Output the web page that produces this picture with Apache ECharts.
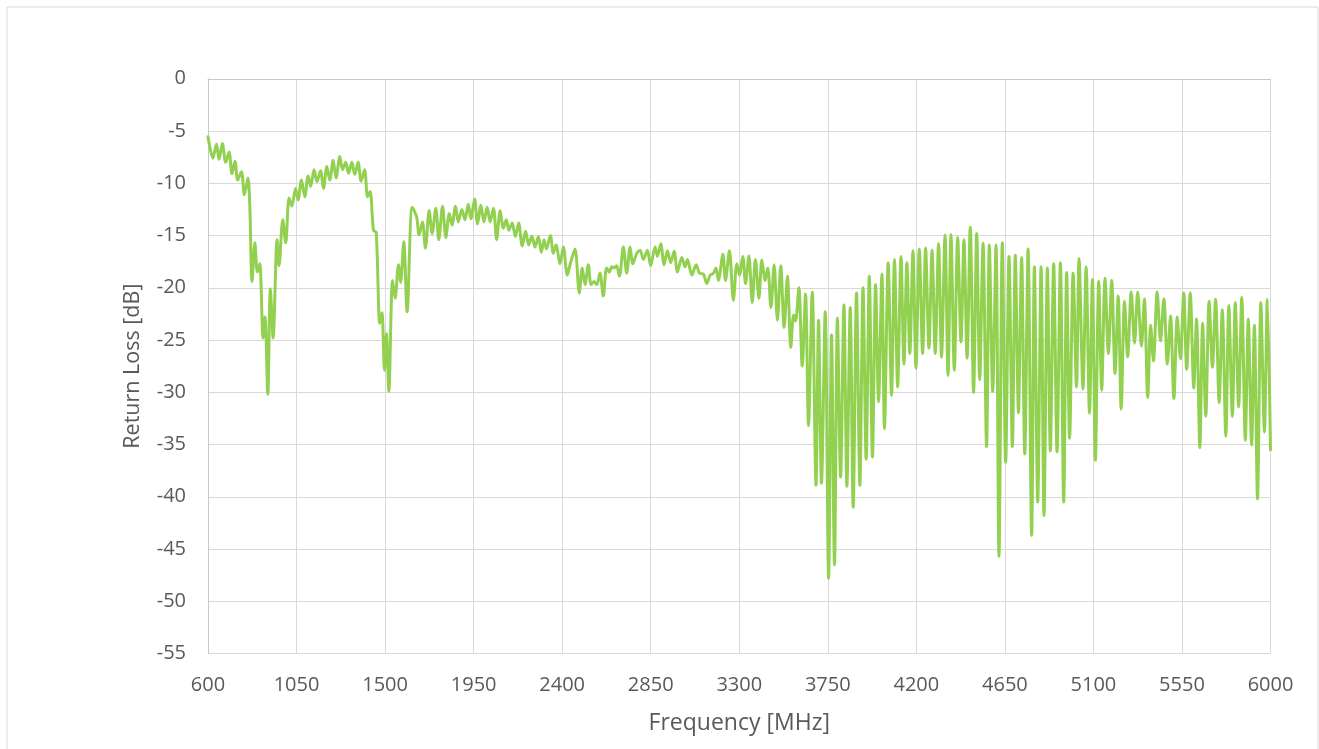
<!DOCTYPE html>
<html>
<head>
<meta charset="utf-8">
<script src="https://cdn.jsdelivr.net/npm/echarts@6/dist/echarts.min.js"></script>
<style>
html,body{margin:0;padding:0;background:#fff;}
#chart{width:1319px;height:749px;}
</style>
</head>
<body>
<div id="chart"></div>
<script>
// Frequency [MHz] of each read point
const freqMHz = [
600,625,643,656,673,690,707,722,737,751,770,785,803,812,824,838,851,863,880,890,
904,917,931,951,961,980,995,1012,1026,1045,1058,1075,1092,1109,1122,1139,1154,1172,1187,1204,
1219,1236,1251,1270,1284,1300,1314,1331,1346,1363,1378,1396,1411,1424,1441,1455,1473,1484,1497,1507,
1519,1538,1551,1568,1579,1595,1612,1638,1660,1673,1690,1705,1724,1739,1758,1773,1792,1809,1826,1840,
1858,1872,1890,1906,1923,1936,1955,1970,1987,2002,2019,2034,2051,2067,2085,2101,2116,2129,2146,2162,
2179,2197,2214,2230,2246,2262,2279,2294,2308,2320,2340,2355,2369,2389,2406,2426,2440,2465,2487,2502,
2516,2533,2547,2562,2576,2592,2609,2626,2640,2652,2664,2677,2691,2711,2728,2745,2759,2779,2796,2813,
2833,2850,2872,2884,2901,2918,2935,2952,2969,2986,3008,3025,3037,3059,3081,3098,3118,3135,3152,3169,
3182,3194,3217,3230,3250,3270,3288,3301,3318,3332,3349,3366,3382,3400,3415,3432,3445,3461,3477,3494,
3511,3528,3545,3562,3576,3586,3603,3620,3637,3652,3671,3690,3703,3718,3737,3754,3769,3784,3799,3815,
3832,3847,3864,3879,3896,3913,3929,3945,3961,3977,3993,4008,4025,4038,4057,4074,4089,4105,4122,4137,
4152,4167,4183,4198,4215,4232,4247,4264,4280,4296,4313,4328,4346,4361,4376,4393,4410,4427,4442,4458,
4474,4491,4507,4522,4539,4557,4571,4588,4605,4620,4637,4654,4671,4688,4703,4719,4735,4751,4768,4786,
4800,4817,4834,4849,4866,4881,4898,4915,4932,4949,4964,4979,4997,5014,5027,5047,5063,5080,5095,5110,
5127,5142,5159,5176,5193,5210,5226,5241,5258,5274,5292,5309,5325,5344,5359,5376,5391,5405,5424,5441,
5458,5476,5492,5509,5526,5542,5559,5574,5592,5610,5624,5641,5655,5671,5688,5705,5721,5739,5755,5773,
5788,5806,5821,5838,5854,5872,5887,5904,5918,5934,5951,5969,5984,6000
];
// Return loss [dB] at each frequency above
const returnLossDb = [
-5.55,-7.6,-6.24,-7.7,-6.2,-8.0,-7.0,-9.1,-7.9,-9.7,-8.9,-11.1,-9.5,-11.9,-19.4,-15.7,-18.5,-17.7,-24.8,-22.8,
-30.2,-20.1,-24.8,-15.4,-17.9,-13.5,-15.7,-11.4,-12.2,-10.5,-11.6,-9.7,-11.3,-9.3,-10.3,-8.7,-9.85,-8.8,-10.5,-8.4,
-9.7,-7.8,-9.5,-7.45,-8.7,-8.0,-9.05,-8.0,-9.15,-8.0,-9.8,-8.7,-11.3,-10.8,-14.5,-14.7,-23.4,-22.4,-27.9,-24.4,
-29.9,-19.3,-21.0,-17.8,-19.5,-15.6,-22.3,-12.3,-13.2,-14.95,-13.7,-16.2,-12.6,-14.8,-12.4,-15.4,-12.2,-15.2,-12.9,-14.0,
-12.2,-13.7,-12.5,-13.5,-12.0,-13.4,-11.5,-13.9,-12.1,-13.7,-12.3,-13.7,-12.4,-15.4,-12.6,-14.3,-13.5,-14.5,-13.8,-15.1,
-13.8,-16.0,-14.6,-15.9,-15.05,-16.1,-15.1,-16.6,-15.4,-16.3,-15.0,-16.7,-15.9,-17.7,-16.1,-18.8,-17.8,-16.3,-20.5,-18.1,
-19.7,-17.8,-19.7,-19.4,-19.7,-18.6,-20.8,-18.1,-18.5,-18.0,-18.1,-17.9,-18.9,-16.1,-18.6,-16.1,-17.7,-16.7,-16.4,-17.3,
-16.4,-17.9,-16.1,-17.0,-15.8,-17.8,-16.45,-17.6,-16.5,-18.5,-17.1,-18.0,-17.3,-18.8,-17.8,-18.6,-18.7,-19.6,-18.8,-18.6,
-18.1,-19.3,-16.8,-19.3,-16.45,-21.2,-17.7,-18.8,-17.0,-19.6,-16.95,-21.4,-17.3,-21.0,-17.35,-19.3,-18.1,-21.9,-17.8,-23.1,
-17.9,-23.8,-18.9,-25.7,-22.6,-23.2,-20.0,-27.5,-20.6,-33.2,-20.4,-38.9,-23.1,-38.7,-22.3,-47.8,-24.5,-46.5,-22.9,-38.1,
-21.65,-39.0,-21.9,-41.0,-20.5,-38.9,-20.0,-36.4,-18.9,-36.2,-19.7,-30.9,-18.7,-33.5,-17.6,-30.3,-17.3,-29.5,-17.0,-27.3,
-17.6,-26.3,-16.45,-27.7,-16.3,-26.3,-16.2,-25.8,-16.4,-26.3,-15.8,-26.65,-14.95,-28.4,-14.9,-27.9,-15.2,-25.2,-15.4,-26.75,
-14.2,-30.0,-14.8,-28.8,-15.75,-35.2,-15.9,-29.9,-15.9,-45.7,-15.7,-36.7,-17.0,-35.2,-16.9,-31.95,-17.1,-35.9,-16.3,-43.7,
-18.0,-40.5,-18.0,-41.8,-18.1,-35.6,-17.7,-35.7,-17.6,-40.5,-18.55,-34.4,-18.6,-29.5,-17.2,-29.7,-18.0,-32.0,-19.2,-36.5,
-19.4,-29.8,-19.1,-26.3,-19.3,-28.2,-20.8,-31.6,-21.3,-26.6,-20.4,-25.3,-20.4,-25.6,-21.05,-30.5,-23.6,-27.0,-20.4,-25.1,
-21.05,-27.3,-22.7,-30.6,-22.8,-26.8,-20.5,-27.8,-20.5,-29.6,-23.0,-35.3,-23.4,-32.3,-21.3,-27.6,-21.1,-31.0,-22.1,-34.2,
-21.7,-32.3,-21.4,-31.4,-20.9,-34.6,-23.0,-35.05,-23.6,-40.2,-21.4,-33.8,-21.1,-35.5
];
// Axis ticks
const xTickLabels = [600,1050,1500,1950,2400,2850,3300,3750,4200,4650,5100,5550,6000];
const yMin = -55, yMax = 0, yStep = 5;

const xStart = xTickLabels[0];
const xStep = xTickLabels[1] - xTickLabels[0];
const xEnd = xTickLabels[xTickLabels.length - 1];

// the axis runs on (frequency - 600) so that its min is a multiple of the interval
const seriesData = freqMHz.map((f, i) => [f - xStart, returnLossDb[i]]);

const textColor = '#595959';
const fontFamily = '"Open Sans", "Noto Sans", sans-serif';

const chart = echarts.init(document.getElementById('chart'), null, {renderer: 'canvas'});
chart.setOption({
  backgroundColor: '#ffffff',
  animation: false,
  graphic: [{
    type: 'rect',
    shape: {x: 7, y: 7, width: 1311, height: 780},
    style: {fill: 'none', stroke: '#d9d9d9', lineWidth: 1},
    silent: true,
    z: -1
  }],
  grid: {left: 208, right: 48.5, top: 78.75, bottom: 95.5, containLabel: false},
  xAxis: {
    type: 'value',
    min: 0,
    max: xEnd - xStart,
    interval: xStep,
    name: 'Frequency [MHz]',
    nameLocation: 'middle',
    nameGap: 58,
    nameTextStyle: {color: textColor, fontSize: 23, fontFamily: fontFamily},
    axisLine: {show: true, lineStyle: {color: '#c8c8c8', width: 1}},
    axisTick: {show: false},
    axisLabel: {
      color: textColor, fontSize: 20, fontFamily: fontFamily, margin: 22,
      formatter: function (v) {
        const idx = Math.round(v / xStep);
        return String(xTickLabels[idx] !== undefined ? xTickLabels[idx] : v + xStart);
      }
    },
    splitLine: {show: true, lineStyle: {color: '#d9d9d9', width: 1}}
  },
  yAxis: {
    type: 'value',
    min: yMin,
    max: yMax,
    interval: yStep,
    name: 'Return Loss [dB]',
    nameLocation: 'middle',
    nameRotate: 90,
    nameGap: 64,
    nameTextStyle: {color: textColor, fontSize: 21.5, fontFamily: fontFamily},
    axisLine: {show: true, lineStyle: {color: '#c8c8c8', width: 1}},
    axisTick: {show: false},
    axisLabel: {color: textColor, fontSize: 20, fontFamily: fontFamily, margin: 22},
    splitLine: {show: true, lineStyle: {color: '#d9d9d9', width: 1}}
  },
  series: [{
    type: 'line',
    data: seriesData,
    showSymbol: false,
    smooth: 0.3,
    lineStyle: {color: '#92d050', width: 3, cap: 'round', join: 'round'},
    itemStyle: {color: '#92d050'}
  }]
});
</script>
</body>
</html>
